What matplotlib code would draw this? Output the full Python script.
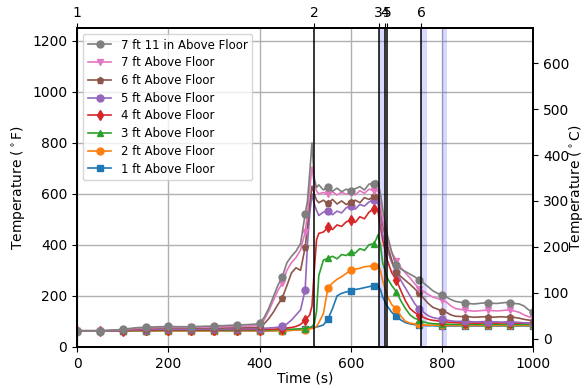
import matplotlib
matplotlib.use("Agg")
import matplotlib.pyplot as plt
import numpy as np

# ---- data ----
time = (list(range(0, 500, 10)) + [500, 505, 510, 515, 520, 525, 530]
        + list(range(540, 660, 10)) + [655, 660, 665, 670]
        + list(range(680, 1010, 10)))

early_gray = [63, 63, 63, 63, 63, 63, 64, 65, 66, 67, 69, 71, 73, 75, 76, 77, 78, 78, 79, 79,
              80, 80, 79, 79, 79, 79, 80, 80, 81, 81, 82, 83, 83, 84, 85, 86, 86, 87, 88, 89, 92]
t_7ft11 = early_gray + [115, 150, 195, 240, 275, 330, 355, 375, 405,
           520, 570, 680, 800, 660, 625, 635,
           615, 628, 610, 622, 608, 618, 612, 620, 628, 615, 638, 640,
           652, 645, 600, 540,
           440, 370, 320, 305, 295, 285, 275, 262, 250, 235, 220, 210, 203, 195, 185, 178, 175,
           173, 170, 168, 170, 172, 173, 171, 170, 172, 174, 173, 170, 168, 160, 145, 135]

early_pink = [63, 63, 63, 63, 63, 63, 63, 64, 65, 66, 68, 69, 71, 72, 73, 74, 75, 75, 76, 76,
              76, 76, 76, 76, 76, 76, 77, 77, 77, 78, 78, 78, 79, 79, 80, 80, 80, 81, 82, 83, 84]
t_7ft = early_pink + [105, 140, 180, 220, 250, 300, 330, 350, 380,
         450, 520, 620, 705, 640, 610, 600,
         605, 598, 608, 595, 606, 598, 605, 596, 612, 602, 618, 612,
         628, 610, 560, 500,
         420, 370, 338, 310, 290, 270, 248, 228, 218, 205, 195, 190, 184, 175, 160, 150, 147,
         145, 142, 140, 141, 143, 143, 142, 141, 142, 144, 143, 140, 135, 125, 118, 115]

early_brown = [63, 63, 63, 63, 63, 63, 63, 63, 64, 65, 66, 67, 68, 69, 70, 72, 72, 72, 73, 73,
               73, 73, 73, 73, 73, 73, 73, 74, 74, 74, 74, 74, 74, 75, 75, 75, 75, 76, 76, 76, 77]
t_6ft = early_brown + [90, 110, 135, 165, 193, 240, 290, 310, 300,
         390, 470, 560, 630, 600, 575, 565,
         575, 562, 578, 560, 572, 558, 568, 575, 565, 585, 578, 590,
         598, 585, 540, 480,
         400, 340, 295, 275, 260, 245, 228, 210, 190, 170, 155, 148, 142, 135, 125, 120, 119,
         119, 118, 116, 117, 118, 117, 116, 117, 118, 117, 117, 115, 112, 108, 105, 103]

early_purple = [63, 63, 63, 63, 63, 63, 63, 63, 63, 64, 65, 66, 67, 67, 68, 68, 68, 69, 69, 69,
                69, 69, 69, 69, 69, 69, 69, 70, 70, 70, 70, 70, 70, 70, 70, 70, 71, 71, 71, 71, 72]
t_5ft = early_purple + [73, 74, 75, 77, 80, 90, 105, 125, 145,
         223, 400, 520, 600, 560, 535, 515,
         528, 533, 518, 532, 525, 545, 551, 540, 558, 552, 568, 575,
         582, 560, 500, 440,
         380, 330, 294, 260, 230, 200, 170, 148, 135, 122, 115, 111, 109, 105, 102, 100, 100,
         100, 99, 98, 98, 99, 98, 98, 98, 97, 98, 98, 97, 96, 94, 93, 92]

early_red = [63, 63, 63, 63, 63, 63, 63, 63, 63, 63, 64, 64, 65, 65, 66, 66, 66, 66, 67, 67,
             67, 67, 67, 67, 67, 67, 67, 67, 67, 67, 67, 67, 68, 68, 68, 68, 68, 68, 68, 68, 68]
t_4ft = early_red + [68, 69, 69, 70, 72, 74, 76, 80, 88,
         106, 115, 125, 160, 300, 420, 445,
         450, 468, 460, 478, 472, 490, 496, 488, 510, 502, 528, 540,
         550, 530, 470, 420,
         340, 290, 262, 220, 180, 150, 135, 125, 115, 108, 104, 102, 100, 98, 96, 95, 94,
         94, 94, 93, 93, 94, 94, 93, 93, 94, 94, 93, 93, 93, 93, 93, 93]

early_green = [63, 63, 63, 63, 63, 63, 63, 63, 63, 63, 64, 64, 64, 64, 64, 64, 64, 64, 65, 65,
               65, 65, 65, 65, 65, 65, 65, 65, 65, 65, 65, 65, 65, 65, 65, 66, 66, 66, 66, 66, 66]
t_3ft = early_green + [66, 66, 67, 67, 68, 69, 69, 70, 71,
         72, 74, 76, 80, 90, 140, 280,
         340, 347, 355, 345, 362, 358, 373, 368, 385, 378, 400, 405,
         418, 440, 400, 330,
         270, 240, 216, 180, 150, 125, 112, 106, 98, 93, 91, 90, 89, 89, 88, 88, 88,
         88, 88, 88, 88, 88, 88, 88, 88, 88, 88, 88, 88, 88, 88, 88, 88]

early_orange = [63] * 41
t_2ft = early_orange + [63, 63, 63, 64, 64, 64, 65, 66, 67,
         68, 69, 70, 72, 74, 80, 95,
         130, 232, 250, 265, 275, 288, 300, 305, 308, 314, 316, 318,
         322, 320, 300, 260,
         200, 165, 150, 120, 100, 93, 90, 88, 86, 85, 85, 85, 84, 84, 84, 84, 84,
         84, 84, 84, 84, 84, 84, 84, 84, 84, 84, 84, 84, 84, 84, 84, 84]

early_blue = [63] * 41
t_1ft = early_blue + [63, 63, 63, 64, 64, 64, 65, 66, 68,
         72, 73, 74, 75, 76, 78, 80,
         86, 109, 150, 200, 210, 215, 220, 225, 228, 232, 236, 240,
         242, 240, 225, 195,
         160, 135, 121, 105, 95, 90, 87, 85, 84, 83, 83, 82, 82, 82, 82, 82, 82,
         82, 82, 82, 82, 82, 82, 82, 82, 82, 82, 82, 82, 82, 82, 82, 82]

labels = ["1 ft Above Floor", "2 ft Above Floor", "3 ft Above Floor", "4 ft Above Floor",
          "5 ft Above Floor", "6 ft Above Floor", "7 ft Above Floor", "7 ft 11 in Above Floor"]
series = [t_1ft, t_2ft, t_3ft, t_4ft, t_5ft, t_6ft, t_7ft, t_7ft11]

event_times = [0, 520, 661, 674, 680, 754]
event_labels = ["1", "2", "3", "4", "5", "6"]
span_starts = [661, 755, 800]
span_ends = [674, 767, 812]

# ---- style ----
colors = ["#1f77b4", "#ff7f0e", "#2ca02c", "#d62728", "#9467bd", "#8c564b", "#e377c2", "#7f7f7f"]
markers = ["s", "o", "^", "d", "o", "p", "v", "o"]

plt.rcParams["font.family"] = ["DejaVu Sans"]
fig = plt.figure(figsize=(5.84, 3.88), dpi=100)
ax = fig.add_axes([0.132, 0.106, 0.781, 0.822])

mark_idx = [i for i, t in enumerate(time) if t % 50 == 0]
handles = []
for vals, lab, c, m in zip(series, labels, colors, markers):
    h, = ax.plot(time, vals, color=c, marker=m, markevery=mark_idx, markersize=5,
                 linewidth=1.2, label=lab)
    handles.append(h)

for s, e in zip(span_starts, span_ends):
    ax.axvspan(s, e, color="blue", alpha=0.15, linewidth=0)
for t in event_times:
    ax.axvline(t, color="black", linewidth=1.1)

ax.set_xlim(0, 1000)
ax.set_ylim(0, 1250)
ax.set_xticks([0, 200, 400, 600, 800, 1000])
ax.set_yticks([0, 200, 400, 600, 800, 1000, 1200])
ax.grid(True, color="#b0b0b0", linewidth=1.0)
ax.set_axisbelow(True)
ax.set_xlabel("Time (s)", fontsize=10, labelpad=1)
ax.set_ylabel("Temperature ($^\\circ$F)", fontsize=10)
ax.tick_params(labelsize=10)

ax.legend(handles[::-1], labels[::-1], loc="upper left", fontsize=8.5,
          handlelength=2.0, borderpad=0.4, labelspacing=0.4)

ax2 = ax.twinx()
ax2.set_ylim((0 - 32) / 1.8, (1250 - 32) / 1.8)
ax2.set_yticks([0, 100, 200, 300, 400, 500, 600])
ax2.set_ylabel("Temperature ($^\\circ$C)", fontsize=10, labelpad=-1.5)
ax2.tick_params(labelsize=10)

ax3 = ax.twiny()
ax3.set_xlim(0, 1000)
ax3.set_xticks(event_times)
ax3.set_xticklabels(event_labels)
ax3.tick_params(labelsize=10, pad=2)

for a in (ax, ax2, ax3):
    for sp in a.spines.values():
        sp.set_linewidth(1.2)

fig.savefig("out.png", dpi=100)
